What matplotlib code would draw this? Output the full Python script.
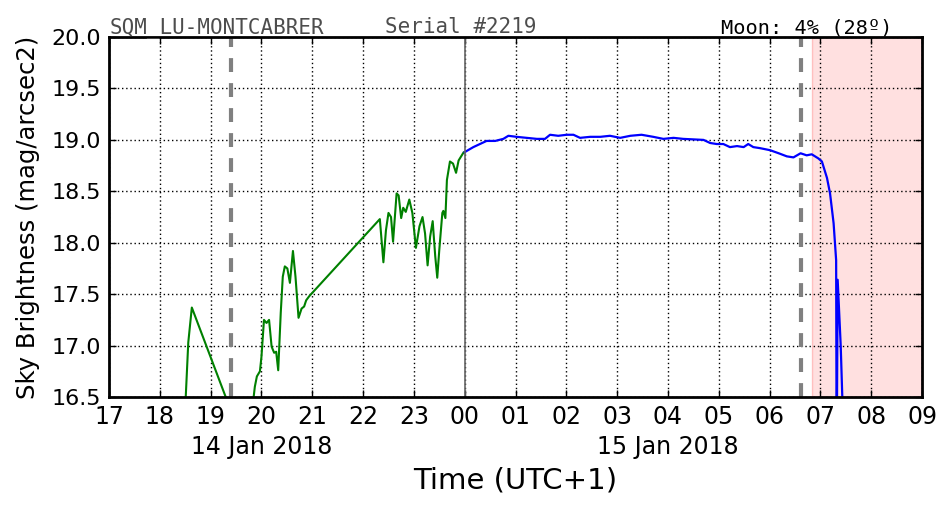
import matplotlib
matplotlib.use('Agg')
import matplotlib.pyplot as plt

# hours counted from 00:00 on 14 Jan 2018 (24 = 00 on 15 Jan)
green_t = [18.48, 18.51, 18.56, 18.63, 19.45, 19.80, 19.87, 19.91, 19.97, 20.00,
           20.05, 20.10, 20.15, 20.20, 20.25, 20.29, 20.33, 20.38, 20.42, 20.46,
           20.51, 20.56, 20.62, 20.67, 20.73, 20.79, 20.84, 20.88, 20.94, 22.33,
           22.40, 22.45, 22.50, 22.55, 22.59, 22.66, 22.70, 22.75, 22.79, 22.84,
           22.91, 22.97, 23.04, 23.11, 23.17, 23.22, 23.27, 23.32, 23.37, 23.42,
           23.46, 23.50, 23.56, 23.58, 23.62, 23.65, 23.71, 23.77, 23.83, 23.88,
           23.98, 24.00]
green_v = [16.20, 16.50, 17.03, 17.37, 16.30, 16.30, 16.60, 16.70, 16.75, 16.89,
           17.25, 17.22, 17.25, 16.99, 16.93, 16.94, 16.76, 17.32, 17.67, 17.77,
           17.75, 17.61, 17.92, 17.67, 17.27, 17.36, 17.38, 17.44, 17.48, 18.23,
           17.81, 18.12, 18.29, 18.25, 18.01, 18.48, 18.46, 18.24, 18.34, 18.30,
           18.42, 18.29, 17.95, 18.16, 18.25, 18.09, 17.78, 18.06, 18.21, 17.87,
           17.66, 17.93, 18.29, 18.31, 18.24, 18.61, 18.79, 18.77, 18.68, 18.80,
           18.88, 18.88]

blue_t = [24.00, 24.03, 24.17, 24.30, 24.43, 24.60, 24.76, 24.86, 25.02, 25.22,
          25.42, 25.58, 25.68, 25.84, 26.01, 26.14, 26.27, 26.47, 26.67, 26.86,
          27.06, 27.26, 27.48, 27.71, 27.91, 28.11, 28.30, 28.70, 28.83, 28.96,
          29.09, 29.22, 29.36, 29.49, 29.58, 29.68, 29.81, 30.01, 30.18, 30.34,
          30.47, 30.61, 30.73, 30.83, 30.96, 31.03, 31.13, 31.19, 31.26, 31.31,
          31.32, 31.34, 31.40, 31.45]
blue_v = [18.88, 18.89, 18.93, 18.96, 18.99, 18.99, 19.01, 19.04, 19.03, 19.02,
          19.01, 19.01, 19.05, 19.04, 19.05, 19.05, 19.02, 19.03, 19.03, 19.04,
          19.02, 19.04, 19.05, 19.03, 19.01, 19.02, 19.01, 19.00, 18.97, 18.96,
          18.96, 18.93, 18.94, 18.93, 18.96, 18.93, 18.92, 18.90, 18.87, 18.84,
          18.83, 18.87, 18.85, 18.86, 18.82, 18.79, 18.63, 18.48, 18.19, 17.83,
          15.80, 17.64, 17.00, 16.20]

hour_ticks = list(range(17, 34))
hour_labels = ['%02d' % (h % 24) for h in hour_ticks]
date_ticks = [20, 28]
date_labels = ['14 Jan 2018', '15 Jan 2018']
twilight = [19.40, 30.62]
day_start = 30.83

plt.rcParams['lines.scale_dashes'] = False

fig = plt.figure(figsize=(9.52, 5.12), dpi=100)
ax = fig.add_axes([0.1145, 0.2246, 0.854, 0.703])

ax.axvspan(day_start, 33, facecolor=(1, 0, 0, 0.12), edgecolor=(1, 0, 0, 0.2), lw=1)
ax.plot(green_t, green_v, color='green', lw=1.5)
ax.plot(blue_t, blue_v, color='blue', lw=1.6)
ax.axvline(24, color='0.4', lw=1.2)
for t in twilight:
    ax.axvline(t, color='gray', lw=3, dashes=(10, 8))

ax.set_xlim(17, 33)
ax.set_ylim(16.5, 20.0)
ax.xaxis.remove_overlapping_locs = False
ax.set_xticks(hour_ticks)
ax.set_xticklabels(hour_labels, fontsize=17)
ax.set_xticks(date_ticks, minor=True)
ax.set_xticklabels(date_labels, minor=True, fontsize=17)
ax.set_yticks([16.5, 17.0, 17.5, 18.0, 18.5, 19.0, 19.5, 20.0])
ax.set_yticklabels(['%.1f' % v for v in ax.get_yticks()], fontsize=16)
ax.tick_params(which='major', direction='in', top=True, right=True, length=5, width=1, pad=6)
ax.tick_params(axis='x', which='minor', length=0, pad=27)
ax.grid(True, which='major', color='black', lw=1, dashes=(1, 2))
for s in ax.spines.values():
    s.set_linewidth(2)

ax.set_ylabel('Sky Brightness (mag/arcsec2)', fontsize=17.5, labelpad=8)
ax.set_xlabel('Time (UTC+1)', fontsize=21, labelpad=6)

fig.text(0.1155, 0.935, 'SQM_LU-MONTCABRER', family='DejaVu Sans Mono', fontsize=15, color='0.3')
fig.text(0.404, 0.935, 'Serial #2219', family='DejaVu Sans Mono', fontsize=15, color='0.3')
fig.text(0.937, 0.935, 'Moon: 4% (28º)', family='DejaVu Sans Mono', fontsize=14.6, color='black', ha='right')

fig.savefig('out.png', dpi=100)
